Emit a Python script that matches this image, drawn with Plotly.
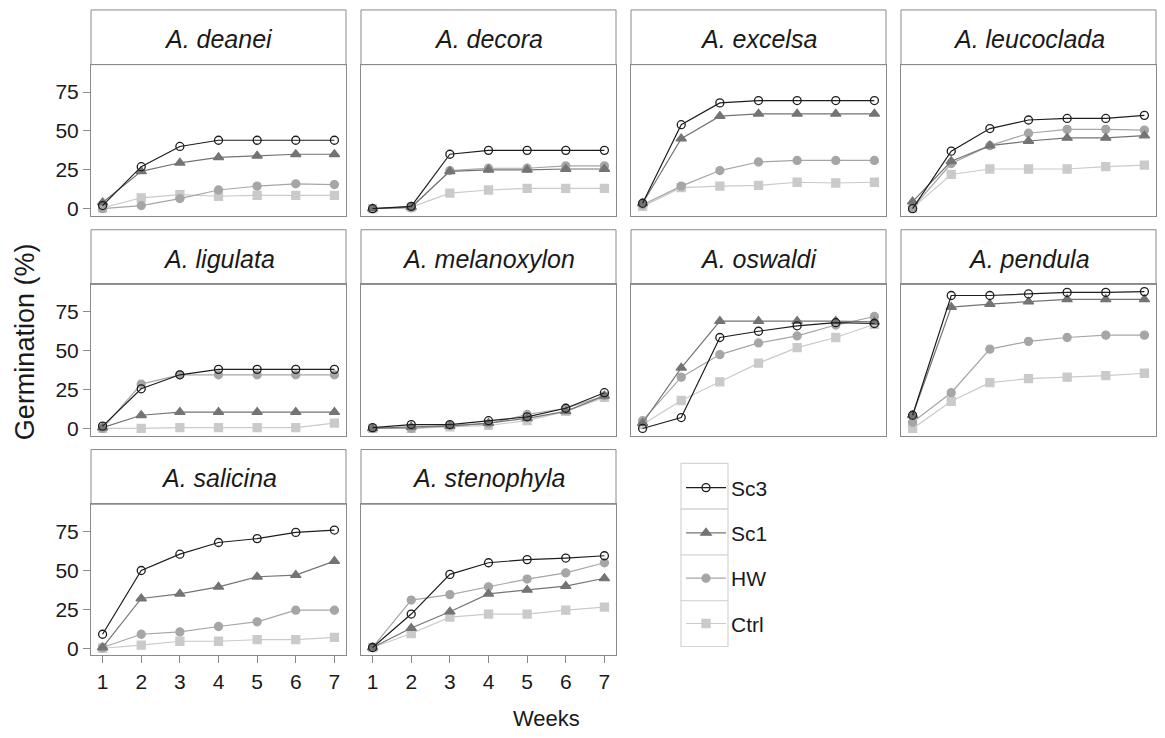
import plotly.graph_objects as go

# Germination over seven weeks for ten Acacia species under four treatments
weeks = [1, 2, 3, 4, 5, 6, 7]
species = ["A. deanei", "A. decora", "A. excelsa", "A. leucoclada", "A. ligulata",
           "A. melanoxylon", "A. oswaldi", "A. pendula", "A. salicina", "A. stenophyla"]
treatments = ["Sc3", "Sc1", "HW", "Ctrl"]

sc3 = [
    [2, 27, 40, 44, 44, 44, 44],
    [0, 1.5, 35, 37.5, 37.5, 37.5, 37.5],
    [3.5, 54, 68, 69.5, 69.5, 69.5, 69.5],
    [0, 37, 51.5, 57, 58, 58, 60],
    [1.5, 25.5, 34.5, 38, 38, 38, 38],
    [0.5, 2.5, 2.5, 5, 7.5, 13, 23],
    [0, 7, 58.5, 62.5, 66, 68, 67.5],
    [8.5, 85.5, 85.5, 86.5, 87.5, 87.5, 88],
    [9, 50, 60.5, 68, 70.5, 74.5, 76],
    [0.5, 22, 47.5, 55, 57, 58, 59.5],
]
sc1 = [
    [4, 24, 29.5, 33, 34, 35, 35],
    [0, 1, 24, 25, 25, 25.5, 25.5],
    [3.5, 45, 59.5, 61, 61, 61, 61],
    [4.5, 30.5, 40.5, 43.5, 45.5, 45.5, 47],
    [0.5, 8.5, 10.5, 10.5, 10.5, 10.5, 10.5],
    [0, 1, 1.5, 3.5, 6.5, 11, 21],
    [3.5, 39, 69, 69, 69, 69, 68.5],
    [8.5, 78, 80, 81.5, 83, 83, 83],
    [0.5, 32, 35, 39.5, 46, 47, 56],
    [0.5, 13, 23.5, 35, 37.5, 40, 45],
]
hw = [
    [0, 2, 6.5, 12, 14.5, 16, 15.5],
    [0, 0.5, 24.5, 26, 26, 27.5, 27.5],
    [2.5, 14.5, 24.5, 30, 31, 31, 31],
    [0.5, 29, 40.5, 48.5, 51, 51, 50.5],
    [0, 28.5, 34.5, 34.5, 34.5, 34.5, 34.5],
    [0, 0, 2, 3, 9, 13, 21],
    [5, 33, 47.5, 55, 59.5, 66.5, 72],
    [4, 23, 51, 56, 58.5, 60, 60],
    [0.5, 9, 10.5, 14, 17, 24.5, 24.5],
    [0.5, 31, 34.5, 39.5, 44.5, 48.5, 55],
]
ctrl = [
    [0.5, 7, 9, 8, 8.5, 8.5, 8.5],
    [0, 1, 10, 12, 13, 13, 13],
    [1.5, 13.5, 14.5, 15, 17, 16.5, 17],
    [0.5, 22, 25.5, 25.5, 25.5, 27, 28],
    [0, 0, 0.5, 0.5, 0.5, 0.5, 3.5],
    [0, 0, 1, 2, 5, 11, 20],
    [2.5, 18, 30, 42, 52, 58.5, 67],
    [0, 17.5, 29.5, 32, 33, 34, 35.5],
    [0, 2, 4.5, 4.5, 5.5, 5.5, 7],
    [0.5, 9.5, 20, 22, 22, 24.5, 26.5],
]
series = {"Sc3": sc3, "Sc1": sc1, "HW": hw, "Ctrl": ctrl}
y_ticks = [0, 25, 50, 75]

styles = {
    "Sc3": dict(color="#1e1e1e", symbol="circle-open", size=8),
    "Sc1": dict(color="#747474", symbol="triangle-up", size=9),
    "HW": dict(color="#a6a6a6", symbol="circle", size=8),
    "Ctrl": dict(color="#cacaca", symbol="square", size=8),
}

W, H = 1165, 738
FONT = "Liberation Sans, Arial, sans-serif"
BORDER = "#8a8a8a"
PANEL_W, PANEL_H, STRIP_H = 255, 152, 55
COL_STEP, ROW_STEP = 270, 221
LEFT0, TOP0 = 91, 65


def px_x(v):
    return v / W


def px_y(v):
    return 1 - v / H


fig = go.Figure()
shapes, annotations = [], []
layout_axes = {}

for i, sp in enumerate(species):
    r, c = divmod(i, 4)
    left = LEFT0 + COL_STEP * c
    top = TOP0 + ROW_STEP * r
    n = "" if i == 0 else str(i + 1)
    xa, ya = "x" + n, "y" + n

    # draw lighter series first so that the darker ones sit on top
    for t in reversed(treatments):
        st = styles[t]
        fig.add_trace(go.Scatter(
            x=weeks, y=series[t][i], xaxis=xa, yaxis=ya,
            mode="lines+markers", name=t, legendgroup=t,
            showlegend=(i == 0), legendrank=treatments.index(t) + 1,
            line=dict(color=st["color"], width=1.2),
            marker=dict(symbol=st["symbol"], size=st["size"], color=st["color"],
                        line=dict(color=st["color"], width=1.3)),
        ))

    show_x = r == 2
    show_y = c == 0
    layout_axes["xaxis" + n] = dict(
        domain=[px_x(left), px_x(left + PANEL_W)], anchor=ya,
        range=[0.7, 7.3], tickvals=weeks if show_x else [],
        showticklabels=show_x, ticks="outside" if show_x else "",
        ticklen=7, tickwidth=1, tickcolor=BORDER,
        showline=True, mirror=True, linecolor=BORDER, linewidth=1,
        showgrid=False, zeroline=False,
        tickfont=dict(family=FONT, size=21, color="#1a1a1a"),
    )
    layout_axes["yaxis" + n] = dict(
        domain=[px_y(top + PANEL_H), px_y(top)], anchor=xa,
        range=[-4.6, 92.6], tickvals=y_ticks if show_y else [],
        showticklabels=show_y, ticks="outside" if show_y else "",
        ticklen=7, tickwidth=1, tickcolor=BORDER,
        showline=True, mirror=True, linecolor=BORDER, linewidth=1,
        showgrid=False, zeroline=False,
        tickfont=dict(family=FONT, size=21, color="#1a1a1a"),
    )

    # facet strip with the species name
    shapes.append(dict(type="rect", xref="paper", yref="paper",
                       x0=px_x(left), x1=px_x(left + PANEL_W),
                       y0=px_y(top), y1=px_y(top - STRIP_H),
                       line=dict(color=BORDER, width=1), fillcolor="white", layer="below"))
    annotations.append(dict(text="<i>" + sp + "</i>", xref="paper", yref="paper",
                            x=px_x(left + PANEL_W / 2), y=px_y(top - STRIP_H / 2 + 1.5),
                            showarrow=False, xanchor="center", yanchor="middle",
                            font=dict(family=FONT, size=25, color="#1a1a1a")))

# legend key boxes
LEG_X, LEG_Y, KEY_W, KEY_H = 681, 466, 47, 46
for k in range(len(treatments)):
    shapes.append(dict(type="rect", xref="paper", yref="paper",
                       x0=px_x(LEG_X), x1=px_x(LEG_X + KEY_W),
                       y0=px_y(LEG_Y + KEY_H * (k + 1)), y1=px_y(LEG_Y + KEY_H * k),
                       line=dict(color="#d4d4d4", width=1.2), fillcolor="white",
                       layer="below"))

annotations.append(dict(text="Weeks", xref="paper", yref="paper",
                        x=px_x(546), y=px_y(722),
                        showarrow=False, xanchor="center", yanchor="middle",
                        font=dict(family=FONT, size=22, color="#1a1a1a")))
annotations.append(dict(text="Germination (%)", xref="paper", yref="paper",
                        x=px_x(25), y=px_y(344), textangle=-90,
                        showarrow=False, xanchor="center", yanchor="middle",
                        font=dict(family=FONT, size=27, color="#1a1a1a")))

fig.update_layout(
    width=W, height=H, margin=dict(l=0, r=0, t=0, b=0),
    paper_bgcolor="white", plot_bgcolor="white",
    shapes=shapes, annotations=annotations,
    legend=dict(x=px_x(LEG_X), y=px_y(LEG_Y + 4), xanchor="left", yanchor="top",
                font=dict(family=FONT, size=21, color="#1a1a1a"),
                bgcolor="rgba(0,0,0,0)", tracegroupgap=15, itemwidth=40,
                traceorder="grouped"),
    **layout_axes,
)

fig.write_html("out.html")
